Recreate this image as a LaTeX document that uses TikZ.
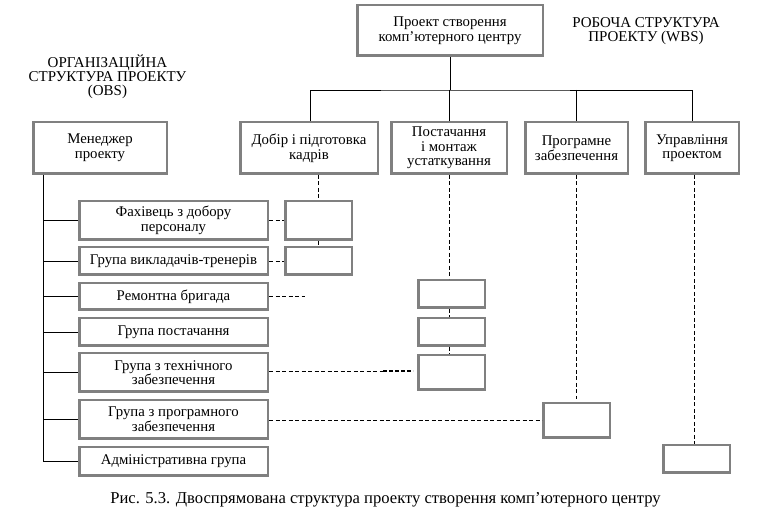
\documentclass[tikz,border=0pt]{standalone}
\usepackage{fontspec}
\setmainfont{Liberation Serif}
\begin{document}
\begin{tikzpicture}[x=1pt,y=-1pt,
  box/.style={draw=black!50,line width=2.5pt,fill=white,inner sep=1pt,align=center,font=\fontsize{14.8}{14.6}\selectfont},
  link/.style={black,line width=0.8pt},
  dashln/.style={black,line width=0.8pt,dash pattern=on 4pt off 2.5pt},
  thickdash/.style={black,line width=2pt,dash pattern=on 4pt off 2pt},
  lbl/.style={align=center,font=\fontsize{15}{14}\selectfont,inner sep=0pt}]
\useasboundingbox (0,0) rectangle (764,518);
% top
\node[box,minimum width=185.5pt,minimum height=50.5pt] (top) at (450,30.5) {Проект створення\\комп’ютерного центру};
% level 2
\node[box,minimum width=133.5pt,minimum height=51.5pt] (mgr) at (100,148) {Менеджер\\проекту};
\node[box,minimum width=137.5pt,minimum height=51.5pt] (dobir) at (309,148) {Добір і підготовка\\кадрів};
\node[box,minimum width=115.5pt,minimum height=51.5pt] (post) at (449,148) {Постачання\\і монтаж\\устаткування};
\node[box,minimum width=102.5pt,minimum height=51.5pt] (prog) at (576.5,148) {Програмне\\забезпечення};
\node[box,minimum width=93.5pt,minimum height=51.5pt] (upr) at (692,148) {Управління\\проектом};
% labels
\node[lbl] (obs) at (107.5,76.5) {ОРГАНІЗАЦІЙНА\\СТРУКТУРА ПРОЕКТУ\\(OBS)};
\node[lbl] (wbs) at (646,31.5) {РОБОЧА СТРУКТУРА\\ПРОЕКТУ (WBS)};
% OBS boxes
\node[box,minimum width=188.5pt,minimum height=38.5pt] (fah) at (173.5,220.5) {Фахівець з добору\\персоналу};
\node[box,minimum width=188.5pt,minimum height=27.5pt] (vykl) at (173.5,261) {Група викладачів-тренерів};
\node[box,minimum width=188.5pt,minimum height=26.5pt] (rem) at (173.5,296.5) {Ремонтна бригада};
\node[box,minimum width=188.5pt,minimum height=27.5pt] (gpost) at (173.5,332) {Група постачання};
\node[box,minimum width=188.5pt,minimum height=38.5pt] (tekh) at (173.5,372.5) {Група з технічного\\забезпечення};
\node[box,minimum width=188.5pt,minimum height=38.5pt] (progr) at (173.5,419.5) {Група з програмного\\забезпечення};
\node[box,minimum width=188.5pt,minimum height=28.5pt] (adm) at (173.5,461.5) {Адміністративна група};
% WBS small boxes
\node[box,minimum width=66.5pt,minimum height=38.5pt] (A) at (318.5,220.5) {};
\node[box,minimum width=66.5pt,minimum height=27.5pt] (B) at (318.5,261) {};
\node[box,minimum width=66.5pt,minimum height=27.5pt] (C) at (451.5,294) {};
\node[box,minimum width=66.5pt,minimum height=27.5pt] (D) at (451.5,332) {};
\node[box,minimum width=66.5pt,minimum height=34.5pt] (E) at (451.5,372.5) {};
\node[box,minimum width=66.5pt,minimum height=34.5pt] (F) at (576.5,420.5) {};
\node[box,minimum width=66.5pt,minimum height=27.5pt] (G) at (696.5,459) {};
% caption
\node[font=\fontsize{16.6}{18}\selectfont,inner sep=0pt] (cap) at (385.5,500) {Рис. 5.3. Двоспрямована структура проекту створення комп’ютерного центру};
% helper coordinates
\coordinate (bus) at (450,90);
\coordinate (trunk) at (43,175);
\coordinate (remend) at (305,296.5);
\coordinate (tk) at (383,371.5);
% WBS bus
\draw[link] (top.south) -- (bus);
\draw[link] (dobir.north -| 310,0) |- (bus) -| (upr.north);
\draw[link] (bus -| post.north) -- (post.north);
\draw[link] (bus -| prog.north) -- (prog.north);
% OBS trunk
\draw[link] (trunk) -- (trunk |- adm.west) -- (adm.west);
\foreach \n in {fah,vykl,rem,gpost,tekh,progr}
  \draw[link] (trunk |- \n.west) -- (\n.west);
% WBS dashed verticals
\draw[dashln] (A.north |- dobir.south) -- (A.north);
\draw[dashln] (A.south) -- (B.north);
\draw[dashln] (post.south) -- (post.south |- C.north);
\draw[dashln] (C.south -| post.south) -- (D.north -| post.south);
\draw[dashln] (D.south -| post.south) -- (E.north -| post.south);
\draw[dashln] (prog.south) -- ([yshift=3pt]prog.south |- F.north);
\draw[dashln] (upr.south -| 694,0) -- (G.north -| 694,0);
% dashed horizontals
\draw[dashln] (fah.east) -- (fah.east -| A.west);
\draw[dashln] (vykl.east) -- (vykl.east -| B.west);
\draw[dashln] (rem.east) -- (remend);
\draw[dashln] (tekh.east |- tk) -- (tk);
\draw[thickdash] (tk) -- ([xshift=-4pt]E.west |- tk);
\draw[dashln] (progr.east |- F.west) -- (F.west);
\end{tikzpicture}
\end{document}
